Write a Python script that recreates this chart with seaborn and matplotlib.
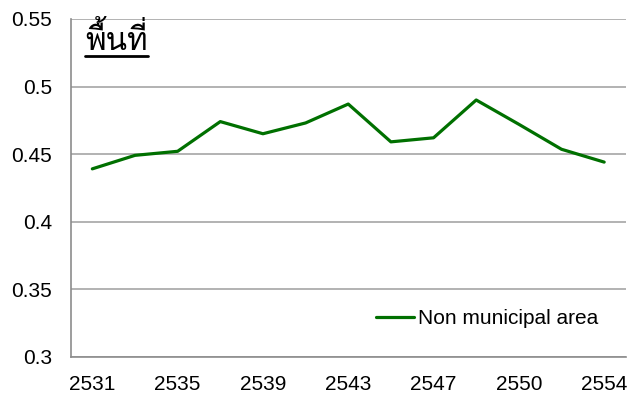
import matplotlib
matplotlib.use("Agg")
import matplotlib.pyplot as plt
import seaborn as sns
import pandas as pd
from matplotlib import font_manager
from matplotlib.ft2font import FT2Font
from matplotlib.lines import Line2D

# Datos del gráfico
anios = ['2531', '2533', '2535', '2537', '2539', '2541', '2543',
         '2545', '2547', '2549', '2550', '2552', '2554']
valores = [0.439, 0.449, 0.452, 0.474, 0.465, 0.473, 0.487,
           0.459, 0.462, 0.490, 0.472, 0.4535, 0.444]
etiquetas_x = ['2531', '2535', '2539', '2543', '2547', '2550', '2554']
titulo = 'พื้นที่'
serie = 'Non municipal area'


def buscar_fuente_tailandesa():
    # busca una fuente instalada que tenga glifos tailandeses
    for f in font_manager.fontManager.ttflist:
        try:
            cmap = FT2Font(f.fname).get_charmap()
        except Exception:
            continue
        if 0x0E1E in cmap and 0x0E35 in cmap:
            return f.name
    return 'DejaVu Sans'


sns.set_style("white")
plt.rcParams['font.family'] = ['Liberation Sans', 'DejaVu Sans']
plt.rcParams['text.color'] = 'black'
plt.rcParams['xtick.labelcolor'] = 'black'
plt.rcParams['ytick.labelcolor'] = 'black'

df = pd.DataFrame({'Anio': anios, 'Valor': valores})

x0, x1, y0, y1 = 71, 625.5, 19, 356.5
fig = plt.figure(figsize=(6.43, 4.05), dpi=100)
ax = fig.add_axes([x0 / 643, 1 - y1 / 405, (x1 - x0) / 643, (y1 - y0) / 405])

sns.lineplot(data=df, x='Anio', y='Valor', color='#007000', linewidth=2.3,
             label=serie, ax=ax)

gris = '#8c8c8c'
ax.set_ylim(0.3, 0.55)
ax.set_yticks([0.3, 0.35, 0.4, 0.45, 0.5, 0.55])
ax.set_yticklabels(['0.3', '0.35', '0.4', '0.45', '0.5', '0.55'])
ax.set_xlim(-0.5, len(anios) - 0.5)
ax.set_xticks([i - 0.5 for i in range(len(anios) + 1)])
ax.set_xticklabels([])
ax.set_xticks([anios.index(a) for a in etiquetas_x], minor=True)
ax.set_xticklabels(etiquetas_x, minor=True)
ax.tick_params(axis='x', which='major', length=4.5, width=1.2, color=gris, direction='out')
ax.tick_params(axis='x', which='minor', length=0, labelsize=15, pad=13.5)
ax.tick_params(axis='y', length=4.5, width=1.2, color=gris, direction='out',
               labelsize=15, pad=9)
ax.set_xlabel('')
ax.set_ylabel('')
ax.grid(axis='y', color='#a6a6a6', linewidth=1.2)
ax.set_axisbelow(True)
for lado in ['top', 'right']:
    ax.spines[lado].set_visible(False)
for lado in ['left', 'bottom']:
    ax.spines[lado].set_color(gris)
    ax.spines[lado].set_linewidth(1.2)

ax.legend(loc='center right',
          bbox_to_anchor=((598 - x0) / (x1 - x0), 1 - (319 - y0) / (y1 - y0)),
          frameon=False, fontsize=15, handlelength=1.8, handletextpad=0.2,
          borderaxespad=0, borderpad=0)

# título subrayado dentro del área del gráfico
fuente_thai = buscar_fuente_tailandesa()
txt = fig.text(85 / 643, 1 - 50 / 405, titulo, fontsize=22.5,
               family=[fuente_thai, 'DejaVu Sans'], ha='left', va='baseline')
fig.canvas.draw()
bb = txt.get_window_extent().transformed(fig.transFigure.inverted())
y_sub = 1 - 55.5 / 405
fig.add_artist(Line2D([bb.x0, bb.x1], [y_sub, y_sub], color='black',
                      linewidth=2, transform=fig.transFigure))

plt.savefig('out.png', dpi=100)
